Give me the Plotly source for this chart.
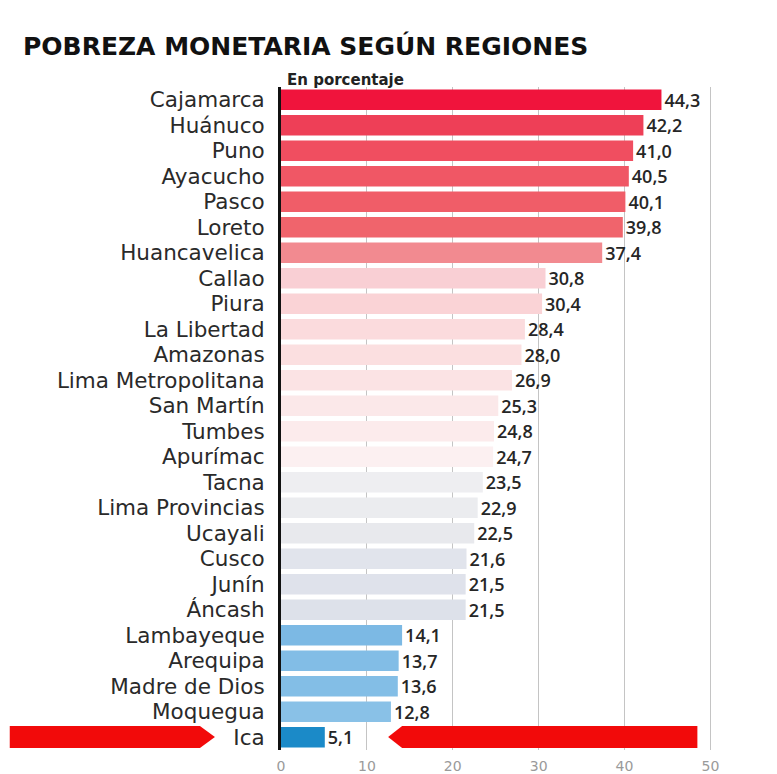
import plotly.graph_objects as go

regions = ["Cajamarca", "Huánuco", "Puno", "Ayacucho", "Pasco", "Loreto", "Huancavelica",
           "Callao", "Piura", "La Libertad", "Amazonas", "Lima Metropolitana", "San Martín",
           "Tumbes", "Apurímac", "Tacna", "Lima Provincias", "Ucayali", "Cusco", "Junín",
           "Áncash", "Lambayeque", "Arequipa", "Madre de Dios", "Moquegua", "Ica"]
values = [44.3, 42.2, 41.0, 40.5, 40.1, 39.8, 37.4,
          30.8, 30.4, 28.4, 28.0, 26.9, 25.3,
          24.8, 24.7, 23.5, 22.9, 22.5, 21.6, 21.5,
          21.5, 14.1, 13.7, 13.6, 12.8, 5.1]
colors = ["#f0143c", "#ee3f57", "#f04e60", "#f05765", "#f05d68", "#f0646c", "#f28a90",
          "#f9cfd4", "#fad3d6", "#fbdbdd", "#fbdfe0", "#fbe3e4", "#fbe8e9",
          "#fcebec", "#fcf0f1", "#eeeef1", "#ebecef", "#e8e9ed", "#e1e4ec", "#dfe2eb",
          "#dde1ea", "#7cb9e4", "#82bde6", "#83bee6", "#89c1e7", "#1b8ac8"]
x_ticks = [0, 10, 20, 30, 40, 50]

idx = list(range(len(regions)))

# the page body has an 8px margin; figure is sized to fit the window
OFF = 8
W, H = 769, 766
L, T, B = 273, 79, 24
PW = 437.6
R = W - L - PW
PH = H - T - B

def px(xs):
    return (xs - OFF - L) / PW

def py(ys):
    return (H - B - (ys - OFF)) / PH

fig = go.Figure()
fig.add_trace(go.Bar(
    x=values, y=idx, orientation="h",
    marker=dict(color=colors, line=dict(width=0)),
    width=0.8,
    text=values, texttemplate="%{x:.1f}", textposition="outside",
    constraintext="none",
    textfont=dict(family="Open Sans", size=18, color="#262626", weight=600),
    cliponaxis=False,
    hoverinfo="skip",
))

red = "#f20a0a"
left_arrow = (f"M {px(10)},{py(726)} L {px(200)},{py(726)} L {px(215)},{py(737)} "
              f"L {px(200)},{py(748)} L {px(10)},{py(748)} Z")
right_arrow = (f"M {px(388)},{py(737)} L {px(402)},{py(726)} L {px(697)},{py(726)} "
               f"L {px(697)},{py(748)} L {px(402)},{py(748)} Z")

fig.update_layout(
    width=W, height=H,
    margin=dict(l=L, r=R, t=T, b=B, autoexpand=False),
    paper_bgcolor="white", plot_bgcolor="white",
    separators=",.",
    showlegend=False,
    xaxis=dict(range=[0, 51], tickvals=x_ticks, showgrid=True, gridcolor="#c4c4c4",
               gridwidth=1, zeroline=False, showline=False, ticks="",
               ticklabelstandoff=6,
               tickfont=dict(family="DejaVu Sans", size=14, color="#9a9a9a"),
               fixedrange=True),
    yaxis=dict(range=[len(regions) - 0.5, -0.5], tickvals=idx, ticktext=regions,
               showgrid=False, zeroline=False, showline=True, linecolor="#111111",
               linewidth=3, ticks="", ticklabelstandoff=9,
               tickfont=dict(family="DejaVu Sans", size=21.5, color="#2a2a2a")),
    shapes=[
        dict(type="path", xref="paper", yref="paper", path=left_arrow,
             fillcolor=red, line=dict(width=0)),
        dict(type="path", xref="paper", yref="paper", path=right_arrow,
             fillcolor=red, line=dict(width=0)),
    ],
    annotations=[
        dict(text="<b>POBREZA MONETARIA SEGÚN REGIONES</b>", xref="paper", yref="paper",
             x=px(21), y=py(46), xanchor="left", yanchor="middle", showarrow=False,
             font=dict(family="DejaVu Sans", size=25, color="#111111")),
        dict(text="<b>En porcentaje</b>", xref="paper", yref="paper",
             x=px(285), y=py(80), xanchor="left", yanchor="middle", showarrow=False,
             font=dict(family="DejaVu Sans", size=15, color="#222222")),
    ],
)

fig.write_html("out.html")
